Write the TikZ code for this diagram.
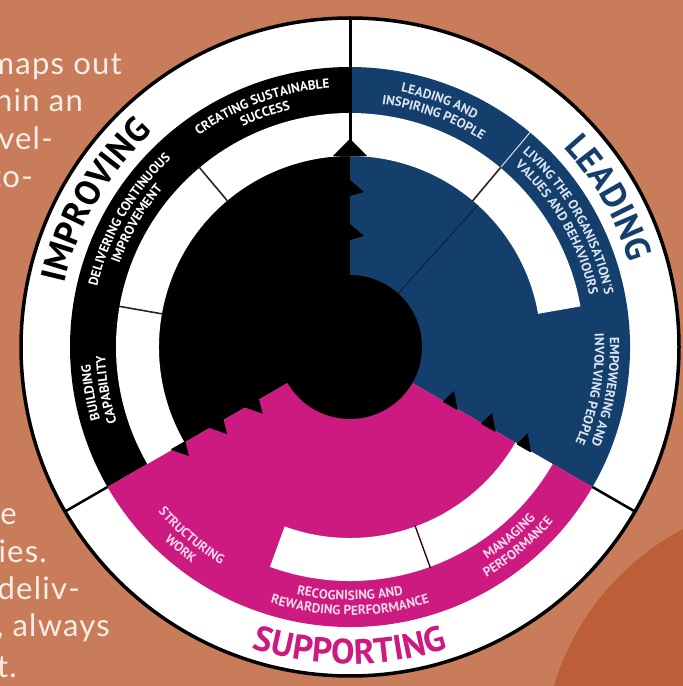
\documentclass[tikz,border=0pt]{standalone}
\usepackage{fontspec}
\setmainfont{Lato}
\newfontfamily\labfam{PT Sans}
\newfontfamily\bodyfam[LetterSpace=4]{Lato}
\usetikzlibrary{decorations.text}
\definecolor{bgor}{HTML}{C87C5A}
\definecolor{blobor}{HTML}{BC5E38}
\definecolor{navy}{HTML}{143F6C}
\definecolor{mag}{HTML}{CC1A80}
\definecolor{bodyw}{HTML}{F8EEE8}
\definecolor{blutxt}{HTML}{DDE6F0}
\definecolor{magtxt}{HTML}{F7D8EA}
\newcommand\mainlab{\labfam\bfseries\fontsize{35}{35}\selectfont}
\newcommand\sublab{\labfam\bfseries\fontsize{13.2}{14}\selectfont}
\newcommand\arctext[5]{%
  \path[decorate,decoration={text along path,text align=center,text={|#4|#5}}]
    (#2:#1) arc[start angle=#2,end angle=#3,radius=#1];}
\newcommand\cwtext[4]{% angle, radius, format, text : clockwise, tops outward
  \pgfmathsetmacro\myAngA{#1+50}\pgfmathsetmacro\myAngB{#1-50}%
  \arctext{#2}{\myAngA}{\myAngB}{#3}{#4}}
\newcommand\ccwtext[4]{% angle, radius, format, text : counterclockwise, tops inward
  \pgfmathsetmacro\myAngA{#1-50}\pgfmathsetmacro\myAngB{#1+50}%
  \arctext{#2}{\myAngA}{\myAngB}{#3}{#4}}
\newcommand\mybarb[3]{% angle, distance, side
  \fill[black,rotate=#1,yscale=#3] (#2+8,-1) -- (#2+8,0) -- (#2-4,14) -- (#2-8,0) -- (#2-8,-1) -- cycle;}
\newcommand\whiteseg[2]{%
  \fill[white] (#1:234) arc[start angle=#1,end angle=#2,radius=234] -- (#2:191) arc[start angle=#2,end angle=#1,radius=191] -- cycle;}
\tikzset{bodytxt/.style={font=\bodyfam\fontsize{31}{31}\selectfont, text=bodyw, inner sep=0pt, anchor=base east}}
\begin{document}
\begin{tikzpicture}[x=1pt,y=1pt]
\useasboundingbox (0,0) rectangle (683,686);
\fill[bgor] (0,0) rectangle (683,686);
\fill[blobor] (805,-75) circle[radius=262];
% body text fragments
\node[bodytxt] (b1) at (122,611) {maps out};
\node[bodytxt] (b2) at (83,574) {hin an};
\node[bodytxt] (b3) at (53,536) {evel-};
\node[bodytxt] (b4) at (33,498) {to-};
\node[bodytxt] (b5) at (17,161) {re};
\node[bodytxt] (b6) at (47,123) {ies.};
\node[bodytxt] (b7) at (80,86) {deliv-};
\node[bodytxt] (b8) at (110,49) {, always};
\node[bodytxt] (b9) at (17,9) {t.};
\begin{scope}[shift={(350,339)}]
  \fill[white] (0,0) circle[radius=329];
  % sectors
  \fill[black] (0,0) -- (90:280) arc[start angle=90,end angle=210,radius=280] -- cycle;
  \fill[navy] (0,0) -- (-30:280) arc[start angle=-30,end angle=90,radius=280] -- cycle;
  \fill[mag] (0,0) -- (210:280) arc[start angle=210,end angle=330,radius=280] -- cycle;
  % inner white segments
  \whiteseg{90}{210}
  \whiteseg{10}{90}
  \whiteseg{-110}{-30}
  % sub dividers
  \draw[line width=1.6pt, black!85] (130:190) -- (130:235);
  \draw[line width=1.6pt, black!85] (170:190) -- (170:235);
  \draw[line width=1.6pt, black!85] (50:190) -- (50:235);
  \draw[line width=1pt, navy!55!black] (48:72) -- (48:191);
  \draw[line width=1pt, white!85!navy] (50:235) -- (50:280);
  \draw[line width=1.4pt, black!75!mag] (-70:190) -- (-70:235);
  % barbs
  \mybarb{90}{115}{-1}
  \mybarb{90}{159}{-1}
  \fill[black] (-17,191) -- (0,208) -- (17,191) -- cycle;
  \mybarb{-30}{116}{1}
  \mybarb{-30}{160}{1}
  \mybarb{-30}{201}{1}
  \mybarb{210}{113}{1}
  \mybarb{210}{154}{1}
  \mybarb{210}{198}{1}
  % centre
  \fill[black] (0,0) circle[radius=72];
  % main dividers
  \draw[line width=3pt] (90:191) -- (90:329);
  \draw[line width=2.5pt] (210:280) -- (210:329);
  \draw[line width=2.5pt] (330:280) -- (330:329);
  \draw[line width=3.5pt] (0,0) circle[radius=329];
  % main labels
  \cwtext{150}{292}{\mainlab\color{black}}{IMPROVING}
  \cwtext{30}{292}{\mainlab\color{navy}}{LEADING}
  \ccwtext{-90}{317}{\mainlab\color{mag}}{SUPPORTING}
  % sub labels
  \cwtext{110}{260}{\sublab\color{white}}{CREATING SUSTAINABLE}
  \cwtext{110}{245}{\sublab\color{white}}{SUCCESS}
  \cwtext{150}{260}{\sublab\color{white}}{DELIVERING CONTINUOUS}
  \cwtext{150}{245}{\sublab\color{white}}{IMPROVEMENT}
  \cwtext{190}{260}{\sublab\color{white}}{BUILDING}
  \cwtext{190}{245}{\sublab\color{white}}{CAPABILITY}
  \cwtext{70}{260}{\sublab\color{blutxt}}{LEADING AND}
  \cwtext{70}{245}{\sublab\color{blutxt}}{INSPIRING PEOPLE}
  \cwtext{30}{260}{\sublab\color{blutxt}}{LIVING THE ORGANISATION'S}
  \cwtext{30}{245}{\sublab\color{blutxt}}{VALUES AND BEHAVIOURS}
  \cwtext{-10}{260}{\sublab\color{blutxt}}{EMPOWERING AND}
  \cwtext{-10}{245}{\sublab\color{blutxt}}{INVOLVING PEOPLE}
  \ccwtext{-50}{253}{\sublab\color{magtxt}}{MANAGING}
  \ccwtext{-50}{268}{\sublab\color{magtxt}}{PERFORMANCE}
  \ccwtext{-90}{253}{\sublab\color{magtxt}}{RECOGNISING AND}
  \ccwtext{-90}{268}{\sublab\color{magtxt}}{REWARDING PERFORMANCE}
  \ccwtext{-130}{253}{\sublab\color{magtxt}}{STRUCTURING}
  \ccwtext{-130}{268}{\sublab\color{magtxt}}{WORK}
\end{scope}
\end{tikzpicture}
\end{document}
